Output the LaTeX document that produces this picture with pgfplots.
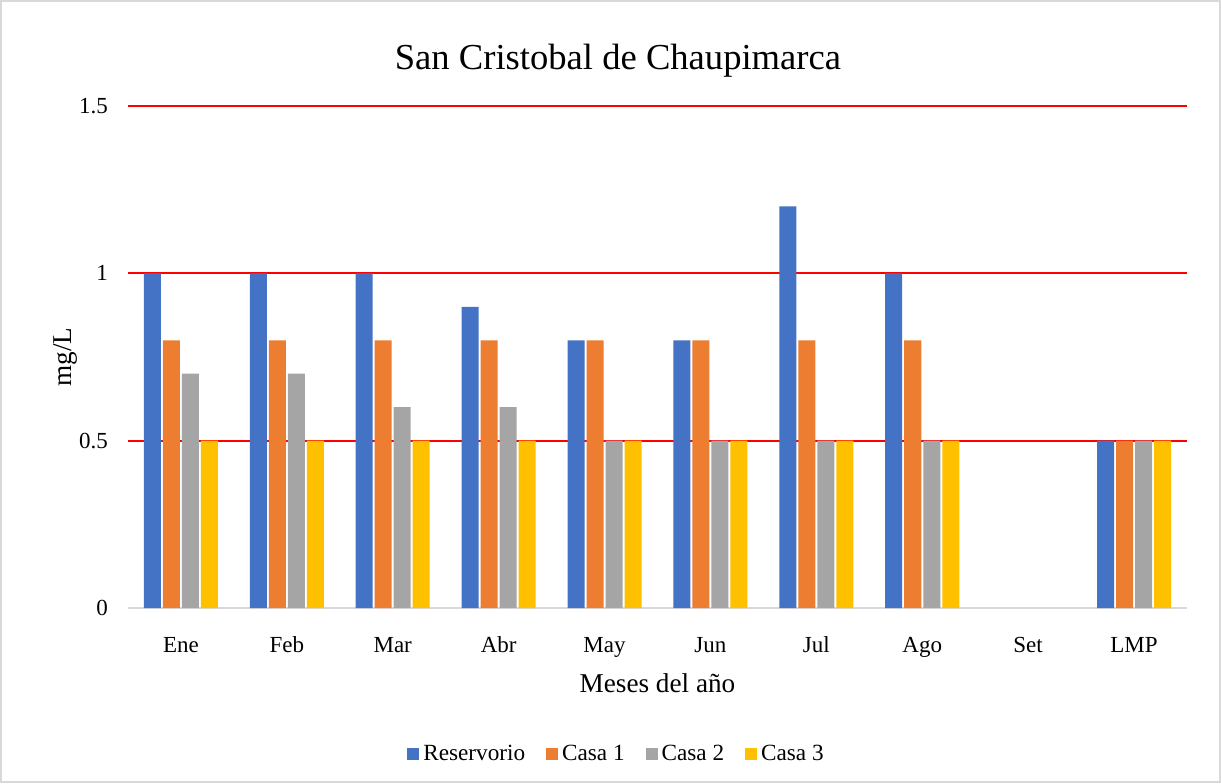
\documentclass[border=0pt]{standalone}
\usepackage{fontspec}
\setmainfont{Liberation Serif}
\usepackage{pgfplots}
\pgfplotsset{compat=1.18}

\definecolor{cRes}{HTML}{4472C4}
\definecolor{cCasaA}{HTML}{ED7D31}
\definecolor{cCasaB}{HTML}{A5A5A5}
\definecolor{cCasaC}{HTML}{FFC000}
\definecolor{frameGray}{HTML}{D9D9D9}

\begin{document}
\begin{tikzpicture}
% page = 1221 x 783 px, 1px = 0.5pt, origin at the lower left of the plot area
\useasboundingbox (-64pt,-87.5pt) rectangle (546.5pt,304pt);
\draw[frameGray, line width=0.8pt] (-63.6pt,-87.1pt) rectangle (546.1pt,303.6pt);
\begin{axis}[
  at={(0,0)}, anchor=south west,
  scale only axis, width=529.5pt, height=251pt,
  ybar=1pt, bar width=8.5pt,
  xmin=-0.5, xmax=9.5, ymin=0, ymax=1.5,
  xtick={0,...,9},
  xticklabels={Ene,Feb,Mar,Abr,May,Jun,Jul,Ago,Set,LMP},
  ytick={0.5,1,1.5},
  extra y ticks={0}, extra y tick style={grid=none},
  ymajorgrids, major grid style={red, line width=1pt},
  major tick length=0pt,
  axis x line*=bottom, axis y line*=left,
  x axis line style={frameGray, line width=0.8pt},
  y axis line style={draw=none},
  /pgf/number format/assume math mode=true,
  ticklabel style={font=\fontsize{11.5}{13}\selectfont},
  xticklabel style={anchor=base, yshift=-22pt},
  yticklabel style={anchor=east, xshift=-6.5pt},
  title={San Cristobal de Chaupimarca},
  title style={at={(0.5,1)}, anchor=center, yshift=16.5pt, xshift=-19.75pt,
    font=\fontsize{18.3}{22}\selectfont},
  xlabel={Meses del año},
  xlabel style={at={(0.5,0)}, anchor=center, yshift=-37.5pt,
    font=\fontsize{13.6}{16}\selectfont},
  ylabel={mg/L},
  ylabel style={at={(0,0.5)}, anchor=center, yshift=31.5pt,
    font=\fontsize{13.6}{16}\selectfont},
  every axis plot/.append style={draw=none,
    legend image code/.code={\fill[##1] (0pt,-3pt) rectangle (6pt,3pt);}},
  legend columns=4,
  legend style={at={(0.4622,-0.291)}, anchor=center, draw=none,
    font=\fontsize{11.6}{13}\selectfont,
    /tikz/every even column/.append style={column sep=8.5pt}},
]
\addplot[fill=cRes] coordinates {(0,1) (1,1) (2,1) (3,0.9) (4,0.8) (5,0.8) (6,1.2) (7,1) (9,0.5)};
\addplot[fill=cCasaA] coordinates {(0,0.8) (1,0.8) (2,0.8) (3,0.8) (4,0.8) (5,0.8) (6,0.8) (7,0.8) (9,0.5)};
\addplot[fill=cCasaB] coordinates {(0,0.7) (1,0.7) (2,0.6) (3,0.6) (4,0.5) (5,0.5) (6,0.5) (7,0.5) (9,0.5)};
\addplot[fill=cCasaC] coordinates {(0,0.5) (1,0.5) (2,0.5) (3,0.5) (4,0.5) (5,0.5) (6,0.5) (7,0.5) (9,0.5)};
\legend{Reservorio, Casa 1, Casa 2, Casa 3}
\end{axis}
\end{tikzpicture}
\end{document}
